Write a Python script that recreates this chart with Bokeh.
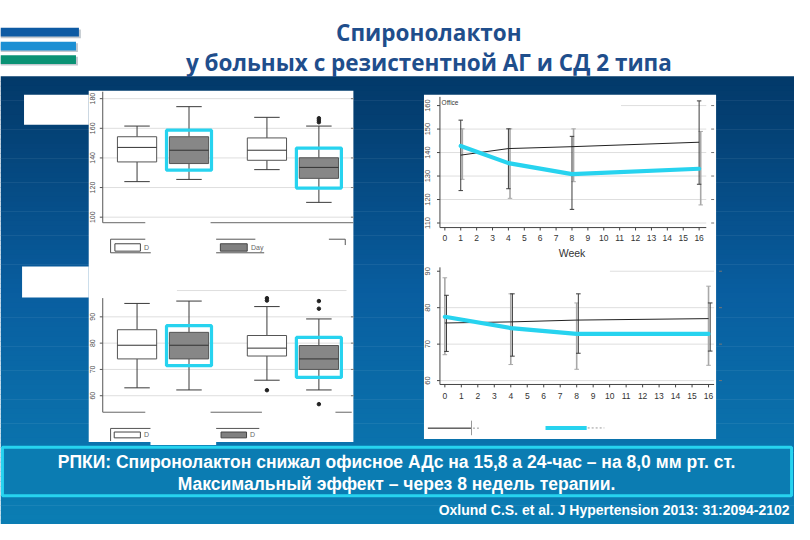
import numpy as np
from bokeh.plotting import figure
from bokeh.models import Range1d
from bokeh.embed import file_html
from bokeh.resources import INLINE
from bokeh.core.properties import value

# ---------------- data ----------------
title_lines = ["Спиронолактон", "у больных с резистентной АГ и СД 2 типа"]
note_lines = ["РПКИ: Спиронолактон снижал офисное АДс на 15,8 а 24-час – на 8,0 мм рт. ст.",
              "Максимальный эффект – через 8 недель терапии."]
citation = "Oxlund C.S. et al. J Hypertension 2013: 31:2094-2102"

# box plots (positions of the four groups, two highlighted)
box_groups = [1.0, 2.0, 3.5, 4.5]
box_highlight = [1, 3]           # indices of highlighted groups

# office systolic BP, mmHg
sbp_q1 = [137.3, 136.2, 138.4, 126.2]
sbp_med = [147.1, 145.2, 145.2, 133.6]
sbp_q3 = [154.3, 154.3, 153.5, 140.1]
sbp_lo = [124.0, 125.5, 132.1, 110.0]
sbp_hi = [161.5, 174.6, 167.4, 161.5]
sbp_out_group = [4.5, 4.5, 4.5]
sbp_out_val = [164.1, 165.5, 166.8]
box_sbp_ticks = [100, 120, 140, 160, 180]

# office diastolic BP, mmHg
dbp_q1 = [74.0, 74.0, 75.1, 70.0]
dbp_med = [79.2, 79.2, 78.1, 74.0]
dbp_q3 = [85.1, 84.1, 82.9, 79.1]
dbp_lo = [63.0, 62.2, 65.9, 62.2]
dbp_hi = [95.1, 96.0, 93.9, 89.2]
dbp_out_group = [3.5, 3.5, 3.5, 4.5, 4.5, 4.5]
dbp_out_val = [97.1, 96.2, 62.1, 96.0, 93.1, 56.8]
box_dbp_ticks = [60, 70, 80, 90, 100]

# time course, systolic
weeks_sbp = [1, 4, 8, 16]
sbp_placebo = [138.9, 141.7, 142.5, 144.4]
sbp_spiro = [142.8, 135.5, 130.8, 133.1]
sbp_bar_dark_lo = [123.8, 124.6, 115.8, 126.5]
sbp_bar_dark_hi = [153.8, 150.1, 146.9, 162.0]
sbp_bar_light_lo = [128.6, 120.5, 127.6, 117.7]
sbp_bar_light_hi = [150.1, 150.1, 150.1, 149.0]
line_sbp_ticks = [110, 120, 130, 140, 150, 160]

# time course, diastolic
weeks_dbp = [0, 4, 8, 16]
dbp_placebo = [75.8, 76.1, 76.6, 77.0]
dbp_spiro = [77.5, 74.4, 72.8, 72.8]
dbp_bar_dark_lo = [68.0, 66.7, 67.5, 68.1]
dbp_bar_dark_hi = [83.4, 83.8, 83.8, 81.3]
dbp_bar_light_lo = [67.1, 64.4, 63.1, 64.2]
dbp_bar_light_hi = [88.2, 83.8, 81.3, 85.9]
line_dbp_ticks = [60, 70, 80, 90]

week_ticks = list(range(0, 17))

# ---------------- styles ----------------
CYAN = "#27d3ef"
TXT = "#4a4a4a"
GRID = "#dedede"
FONT = value("Liberation Sans")

p = figure(width=794, height=524, x_range=Range1d(0, 810), y_range=Range1d(540, 0),
           output_backend="svg", toolbar_location=None, min_border=0)
p.axis.visible = False
p.grid.visible = False
p.outline_line_color = None
p.background_fill_color = "white"
p.border_fill_color = "white"

# gradient background (decoration)
edges = np.linspace(78, 540, 94)
mids = (edges[:-1] + edges[1:]) / 2
sy = [78, 110, 300, 540]
rr = np.interp(mids, sy, [2, 4, 9, 12]).astype(int)
gg = np.interp(mids, sy, [58, 62, 94, 126]).astype(int)
bb = np.interp(mids, sy, [106, 112, 160, 180]).astype(int)
cols = ["#%02x%02x%02x" % (a, b, c) for a, b, c in zip(rr, gg, bb)]
p.quad(left=0, right=810, top=edges[:-1], bottom=edges[1:] + 0.6, fill_color=cols, line_color=None)

# logo stripes
p.quad(left=[0, 0, 0], right=[82, 79, 79], top=[30, 44, 58], bottom=[39, 53, 67],
       fill_color="#9aa4ad", line_color=None, fill_alpha=0.6)
p.quad(left=[0, 0, 0], right=[80, 77, 77], top=[28, 42.5, 56.5], bottom=[37, 51.5, 65.5],
       fill_color=["#0d5aa3", "#1b8fd3", "#0a9274"], line_color=None)

# title
p.text(x=[437, 437], y=[33, 63.5], text=title_lines, text_font=value("Open Sans"),
       text_font_style="bold", text_font_size="22.5px", text_color="#1f4e8c",
       text_align="center", text_baseline="alphabetic")

# white picture areas
p.quad(left=[90, 432, 24, 22, 153], right=[360, 730, 90, 90, 220],
       top=[93, 97, 97, 274, 450], bottom=[455, 452, 128, 306, 458],
       fill_color="white", line_color=None)


def panel(xs, xt, ys, yt):
    sub = p.subplot(x_source=Range1d(*xs), y_source=Range1d(*ys),
                    x_target=Range1d(*xt), y_target=Range1d(*yt))
    fx = lambda px: xs[0] + (px - xt[0]) * (xs[1] - xs[0]) / (xt[1] - xt[0])
    fy = lambda py: ys[0] + (py - yt[0]) * (ys[1] - ys[0]) / (yt[1] - yt[0])
    return sub, fx, fy


def boxes(sub, fx, fy, q1, med, q3, lo, hi, og, ov, ticks, y_top, y_axis, axis_parts):
    sx = fx(104.3)
    for t in ticks:
        sub.segment(x0=[sx], x1=[fx(360)], y0=[t], y1=[t], line_color=GRID, line_width=1)
    sub.segment(x0=[sx], x1=[sx], y0=[fy(y_top)], y1=[fy(y_axis)], line_color="#555", line_width=1)
    sub.segment(x0=[fx(a) for a, b in axis_parts], x1=[fx(b) for a, b in axis_parts],
                y0=[fy(y_axis)] * len(axis_parts), y1=[fy(y_axis)] * len(axis_parts),
                line_color="#666", line_width=1)
    sub.segment(x0=[fx(101.3)] * len(ticks), x1=[sx] * len(ticks), y0=ticks, y1=ticks,
                line_color="#555", line_width=1)
    sub.segment(x0=[fx(357.5)] * len(ticks), x1=[fx(360.5)] * len(ticks), y0=ticks, y1=ticks,
                line_color="#777", line_width=1)
    sub.text(x=[fx(93.5)] * len(ticks), y=ticks, text=[str(t) for t in ticks], angle=np.pi / 2,
             text_font=FONT, text_font_size="7px", text_color=TXT,
             text_align="center", text_baseline="middle")
    sub.segment(x0=box_groups, x1=box_groups, y0=q3, y1=hi, line_color="#3a3a3a", line_width=1)
    sub.segment(x0=box_groups, x1=box_groups, y0=q1, y1=lo, line_color="#3a3a3a", line_width=1)
    sub.segment(x0=[g - 0.245 for g in box_groups], x1=[g + 0.245 for g in box_groups],
                y0=hi, y1=hi, line_color="#3a3a3a", line_width=1)
    sub.segment(x0=[g - 0.245 for g in box_groups], x1=[g + 0.245 for g in box_groups],
                y0=lo, y1=lo, line_color="#3a3a3a", line_width=1)
    sub.vbar(x=box_groups, width=0.755, top=q3, bottom=q1,
             fill_color=["white", "#878787", "white", "#878787"], line_color="#555", line_width=1)
    sub.segment(x0=[g - 0.377 for g in box_groups], x1=[g + 0.377 for g in box_groups],
                y0=med, y1=med, line_color="#333", line_width=1)
    sub.scatter(x=og, y=ov, size=3.5, color="#222")
    hx = [box_groups[i] for i in box_highlight]
    hy = [(q1[i] + q3[i]) / 2 for i in box_highlight]
    sub.rect(x=hx, y=hy, width=45, height=40, width_units="screen", height_units="screen",
             fill_alpha=0, line_color=CYAN, line_width=3.2)


# ---- top-left: office systolic box plot ----
s1, f1x, f1y = panel((0, 5), (86.3, 351.3), (100, 160), (223.3, 131.7))
boxes(s1, f1x, f1y, sbp_q1, sbp_med, sbp_q3, sbp_lo, sbp_hi, sbp_out_group, sbp_out_val,
      box_sbp_ticks, 94, 229, [(104.3, 147.7), (214.3, 360)])

# ---- bottom-left: office diastolic box plot ----
s2, f2x, f2y = panel((0, 5), (86.3, 351.3), (60, 90), (407.3, 326.0))
boxes(s2, f2x, f2y, dbp_q1, dbp_med, dbp_q3, dbp_lo, dbp_hi, dbp_out_group, dbp_out_val,
      box_dbp_ticks[:-1], 306.7, 424.3, [(104.3, 147.7), (214.3, 266.7), (341.7, 358.3)])
s2.segment(x0=[f2x(180)], x1=[f2x(353)], y0=[box_dbp_ticks[-1]], y1=[box_dbp_ticks[-1]],
           line_color=GRID, line_width=1)

# left legends (decoration)
p.segment(x0=[112.3, 112.3, 112.3, 220, 220, 335, 351.7, 112.3, 112.3, 220],
          x1=[147.7, 153.3, 112.3, 260, 269, 351.7, 351.7, 153, 112.3, 264],
          y0=[246, 260, 246, 246, 260, 246, 246, 441, 441, 441],
          y1=[246, 260, 260, 246, 260, 246, 252, 441, 454, 441],
          line_color="#555", line_width=1)
p.quad(left=[116.7, 224.3, 116, 225], right=[142.7, 251.7, 142.7, 251],
       top=[250.7, 250.7, 444.7, 444.7], bottom=[258.3, 258.3, 450.7, 450.7],
       fill_color=["white", "#808080", "white", "#808080"], line_color="#444", line_width=1)
p.text(x=[146.5, 255.5, 146.5, 254.5], y=[254.5, 254.5, 447.7, 447.7], text=["D", "Day", "D", "D"],
       text_font=FONT, text_font_size="7px", text_color="#666", text_align="left", text_baseline="middle")


def lines(sub, fx, fy, weeks, plc, spi, dlo, dhi, llo, lhi, ticks, y_top, y_axis, x_end,
          top_grid_from, x_lab_y, week_label_y, light_first):
    sx = fx(448.3)
    for t in ticks[:-1]:
        sub.segment(x0=[sx], x1=[fx(x_end)], y0=[t], y1=[t], line_color=GRID, line_width=1)
    sub.segment(x0=[fx(top_grid_from)], x1=[fx(x_end)], y0=[ticks[-1]], y1=[ticks[-1]],
                line_color=GRID, line_width=1)
    sub.segment(x0=[sx], x1=[sx], y0=[fy(y_top)], y1=[fy(y_axis)], line_color="#444", line_width=1)
    sub.segment(x0=[sx], x1=[fx(x_end)], y0=[fy(y_axis)], y1=[fy(y_axis)], line_color="#444", line_width=1)
    sub.segment(x0=week_ticks, x1=week_ticks, y0=[fy(y_axis)] * 17, y1=[fy(y_axis + 3)] * 17,
                line_color="#444", line_width=1)
    sub.segment(x0=[fx(445.3)] * len(ticks), x1=[sx] * len(ticks), y0=ticks, y1=ticks,
                line_color="#444", line_width=1)
    sub.segment(x0=[fx(x_end + 5)] * len(ticks), x1=[fx(x_end + 8)] * len(ticks), y0=ticks, y1=ticks,
                line_color="#777", line_width=1)
    sub.text(x=week_ticks, y=[fy(x_lab_y)] * 17, text=[str(w) for w in week_ticks],
             text_font=FONT, text_font_size="8.5px", text_color="#333",
             text_align="center", text_baseline="middle")
    if week_label_y is not None:
        sub.text(x=[8], y=[fy(week_label_y)], text=["Week"], text_font=FONT, text_font_size="10.5px",
                 text_color="#333", text_align="center", text_baseline="middle")
    sub.text(x=[fx(435.5)] * len(ticks), y=ticks, text=[str(t) for t in ticks], angle=np.pi / 2,
             text_font=FONT, text_font_size="7.5px", text_color=TXT,
             text_align="center", text_baseline="middle")
    off_d = [0.1 if light_first else 0.0 for _ in weeks]
    off_l = [0.0 if light_first else 0.1 for _ in weeks]
    xd = [w + o for w, o in zip(weeks, off_d)]
    xl = [w + o for w, o in zip(weeks, off_l)]
    sub.segment(x0=xl, x1=xl, y0=llo, y1=lhi, line_color="#a8a8a8", line_width=1.6)
    sub.segment(x0=[x - 0.14 for x in xl], x1=[x + 0.14 for x in xl], y0=llo, y1=llo, line_color="#a8a8a8")
    sub.segment(x0=[x - 0.14 for x in xl], x1=[x + 0.14 for x in xl], y0=lhi, y1=lhi, line_color="#a8a8a8")
    sub.segment(x0=xd, x1=xd, y0=dlo, y1=dhi, line_color="#3c3c3c", line_width=1)
    sub.segment(x0=[x - 0.14 for x in xd], x1=[x + 0.14 for x in xd], y0=dlo, y1=dlo, line_color="#3c3c3c")
    sub.segment(x0=[x - 0.14 for x in xd], x1=[x + 0.14 for x in xd], y0=dhi, y1=dhi, line_color="#3c3c3c")
    sub.line(x=weeks, y=plc, line_color="#222", line_width=1)
    sub.line(x=weeks, y=spi, line_color=CYAN, line_width=4.2, line_cap="round", line_join="round")


# ---- top-right: office systolic over time ----
s3, f3x, f3y = panel((0, 16), (453.3, 712.7), (110, 160), (229.3, 108.3))
lines(s3, f3x, f3y, weeks_sbp, sbp_placebo, sbp_spiro, sbp_bar_dark_lo, sbp_bar_dark_hi,
      sbp_bar_light_lo, sbp_bar_light_hi, line_sbp_ticks, 99.3, 234, 720, 633, 245, 260, False)
p.text(x=[450], y=[105], text=["Office"], text_font=FONT, text_font_size="6.5px",
       text_color="#333", text_align="left", text_baseline="middle")

# ---- bottom-right: diastolic over time ----
s4, f4x, f4y = panel((0, 16), (453.3, 722.3), (60, 90), (391.7, 279.0))
lines(s4, f4x, f4y, weeks_dbp, dbp_placebo, dbp_spiro, dbp_bar_dark_lo, dbp_bar_dark_hi,
      dbp_bar_light_lo, dbp_bar_light_hi, line_dbp_ticks, 275, 395.7, 728, 621.7, 407.3, None, True)

# right legend (decoration)
p.segment(x0=[436], x1=[480], y0=[440.7], y1=[440.7], line_color="#111", line_width=1)
p.segment(x0=[480.5], x1=[480.5], y0=[433], y1=[448], line_color="#999", line_width=1)
p.segment(x0=[482, 599], x1=[490, 616], y0=[440.7, 440.5], y1=[440.7, 440.5],
          line_color="#999", line_width=1, line_dash="2 2")
p.segment(x0=[556], x1=[598], y0=[440.5], y1=[440.5], line_color=CYAN, line_width=4)

# bottom note box
p.quad(left=[2], right=[807], top=[460.5], bottom=[510.5], fill_color="#0b7cb2",
       line_color=CYAN, line_width=3)
p.text(x=[404, 404], y=[476, 498], text=note_lines, text_font=FONT, text_font_style="bold",
       text_font_size="17.5px", text_color="white", text_align="center", text_baseline="middle")
p.text(x=[805], y=[525], text=[citation], text_font=FONT, text_font_style="bold",
       text_font_size="14px", text_color="white", text_align="right", text_baseline="middle")

open("out.html", "w").write(file_html(p, INLINE))
